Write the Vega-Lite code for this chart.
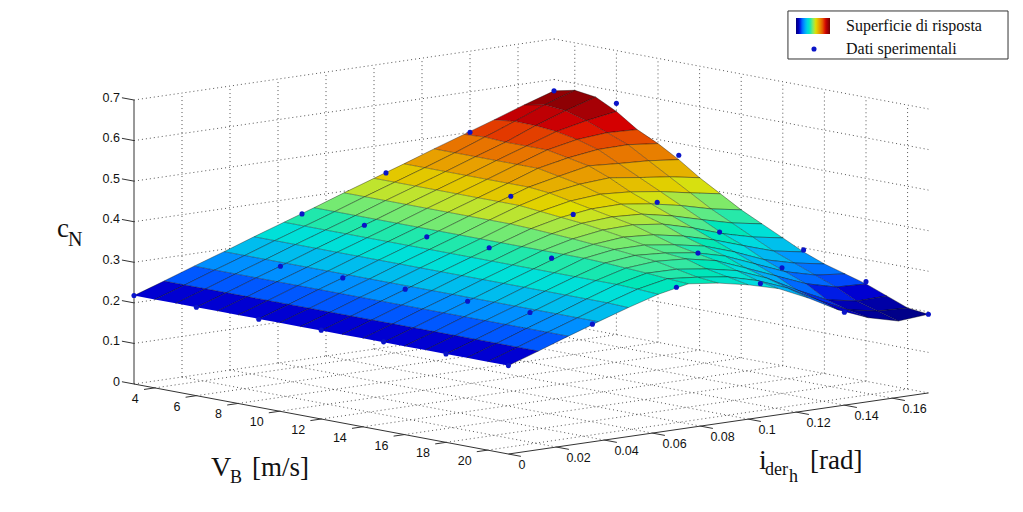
{
"$schema":"https://vega.github.io/schema/vega-lite/v6.json",
"width":1023,"height":512,"padding":0,"autosize":{"type":"none"},"background":"white",
"config":{"view":{"stroke":null}},
"datasets":{
"surface":[
{"V":3,"i":0.175,"c":0.572},{"V":3,"i":0.1625,"c":0.548},{"V":3,"i":0.15,"c":0.522},{"V":3,"i":0.1375,"c":0.497},{"V":3,"i":0.125,"c":0.472},{"V":3,"i":0.1125,"c":0.446},{"V":3,"i":0.1,"c":0.421},{"V":3,"i":0.0875,"c":0.396},{"V":3,"i":0.075,"c":0.37},{"V":3,"i":0.0625,"c":0.345},{"V":3,"i":0.05,"c":0.32},{"V":3,"i":0.0375,"c":0.294},{"V":3,"i":0.025,"c":0.269},{"V":3,"i":0.0125,"c":0.243},{"V":3,"i":0,"c":0.218},
{"V":4,"i":0.175,"c":0.583},{"V":4,"i":0.1625,"c":0.558},{"V":4,"i":0.15,"c":0.528},{"V":4,"i":0.1375,"c":0.5},{"V":4,"i":0.125,"c":0.472},{"V":4,"i":0.1125,"c":0.446},{"V":4,"i":0.1,"c":0.421},{"V":4,"i":0.0875,"c":0.396},{"V":4,"i":0.075,"c":0.37},{"V":4,"i":0.0625,"c":0.345},{"V":4,"i":0.05,"c":0.32},{"V":4,"i":0.0375,"c":0.294},{"V":4,"i":0.025,"c":0.269},{"V":4,"i":0.0125,"c":0.243},{"V":4,"i":0,"c":0.218},
{"V":5,"i":0.175,"c":0.576},{"V":5,"i":0.1625,"c":0.553},{"V":5,"i":0.15,"c":0.527},{"V":5,"i":0.1375,"c":0.497},{"V":5,"i":0.125,"c":0.472},{"V":5,"i":0.1125,"c":0.446},{"V":5,"i":0.1,"c":0.421},{"V":5,"i":0.0875,"c":0.396},{"V":5,"i":0.075,"c":0.37},{"V":5,"i":0.0625,"c":0.345},{"V":5,"i":0.05,"c":0.32},{"V":5,"i":0.0375,"c":0.294},{"V":5,"i":0.025,"c":0.269},{"V":5,"i":0.0125,"c":0.243},{"V":5,"i":0,"c":0.218},
{"V":6,"i":0.175,"c":0.55},{"V":6,"i":0.1625,"c":0.538},{"V":6,"i":0.15,"c":0.522},{"V":6,"i":0.1375,"c":0.497},{"V":6,"i":0.125,"c":0.472},{"V":6,"i":0.1125,"c":0.446},{"V":6,"i":0.1,"c":0.421},{"V":6,"i":0.0875,"c":0.396},{"V":6,"i":0.075,"c":0.37},{"V":6,"i":0.0625,"c":0.345},{"V":6,"i":0.05,"c":0.32},{"V":6,"i":0.0375,"c":0.294},{"V":6,"i":0.025,"c":0.269},{"V":6,"i":0.0125,"c":0.243},{"V":6,"i":0,"c":0.218},
{"V":7,"i":0.175,"c":0.515},{"V":7,"i":0.1625,"c":0.518},{"V":7,"i":0.15,"c":0.512},{"V":7,"i":0.1375,"c":0.497},{"V":7,"i":0.125,"c":0.472},{"V":7,"i":0.1125,"c":0.446},{"V":7,"i":0.1,"c":0.421},{"V":7,"i":0.0875,"c":0.396},{"V":7,"i":0.075,"c":0.37},{"V":7,"i":0.0625,"c":0.345},{"V":7,"i":0.05,"c":0.32},{"V":7,"i":0.0375,"c":0.294},{"V":7,"i":0.025,"c":0.269},{"V":7,"i":0.0125,"c":0.243},{"V":7,"i":0,"c":0.218},
{"V":8,"i":0.175,"c":0.49},{"V":8,"i":0.1625,"c":0.498},{"V":8,"i":0.15,"c":0.497},{"V":8,"i":0.1375,"c":0.487},{"V":8,"i":0.125,"c":0.472},{"V":8,"i":0.1125,"c":0.446},{"V":8,"i":0.1,"c":0.421},{"V":8,"i":0.0875,"c":0.396},{"V":8,"i":0.075,"c":0.37},{"V":8,"i":0.0625,"c":0.345},{"V":8,"i":0.05,"c":0.32},{"V":8,"i":0.0375,"c":0.294},{"V":8,"i":0.025,"c":0.269},{"V":8,"i":0.0125,"c":0.243},{"V":8,"i":0,"c":0.218},
{"V":9,"i":0.175,"c":0.46},{"V":9,"i":0.1625,"c":0.468},{"V":9,"i":0.15,"c":0.472},{"V":9,"i":0.1375,"c":0.477},{"V":9,"i":0.125,"c":0.462},{"V":9,"i":0.1125,"c":0.446},{"V":9,"i":0.1,"c":0.421},{"V":9,"i":0.0875,"c":0.396},{"V":9,"i":0.075,"c":0.37},{"V":9,"i":0.0625,"c":0.345},{"V":9,"i":0.05,"c":0.32},{"V":9,"i":0.0375,"c":0.294},{"V":9,"i":0.025,"c":0.269},{"V":9,"i":0.0125,"c":0.243},{"V":9,"i":0,"c":0.218},
{"V":10,"i":0.175,"c":0.425},{"V":10,"i":0.1625,"c":0.438},{"V":10,"i":0.15,"c":0.447},{"V":10,"i":0.1375,"c":0.457},{"V":10,"i":0.125,"c":0.452},{"V":10,"i":0.1125,"c":0.441},{"V":10,"i":0.1,"c":0.421},{"V":10,"i":0.0875,"c":0.396},{"V":10,"i":0.075,"c":0.37},{"V":10,"i":0.0625,"c":0.345},{"V":10,"i":0.05,"c":0.32},{"V":10,"i":0.0375,"c":0.294},{"V":10,"i":0.025,"c":0.269},{"V":10,"i":0.0125,"c":0.243},{"V":10,"i":0,"c":0.218},
{"V":11,"i":0.175,"c":0.395},{"V":11,"i":0.1625,"c":0.408},{"V":11,"i":0.15,"c":0.422},{"V":11,"i":0.1375,"c":0.432},{"V":11,"i":0.125,"c":0.437},{"V":11,"i":0.1125,"c":0.431},{"V":11,"i":0.1,"c":0.416},{"V":11,"i":0.0875,"c":0.396},{"V":11,"i":0.075,"c":0.37},{"V":11,"i":0.0625,"c":0.345},{"V":11,"i":0.05,"c":0.32},{"V":11,"i":0.0375,"c":0.294},{"V":11,"i":0.025,"c":0.269},{"V":11,"i":0.0125,"c":0.243},{"V":11,"i":0,"c":0.218},
{"V":12,"i":0.175,"c":0.365},{"V":12,"i":0.1625,"c":0.378},{"V":12,"i":0.15,"c":0.397},{"V":12,"i":0.1375,"c":0.412},{"V":12,"i":0.125,"c":0.422},{"V":12,"i":0.1125,"c":0.421},{"V":12,"i":0.1,"c":0.411},{"V":12,"i":0.0875,"c":0.394},{"V":12,"i":0.075,"c":0.37},{"V":12,"i":0.0625,"c":0.345},{"V":12,"i":0.05,"c":0.32},{"V":12,"i":0.0375,"c":0.294},{"V":12,"i":0.025,"c":0.269},{"V":12,"i":0.0125,"c":0.243},{"V":12,"i":0,"c":0.218},
{"V":13,"i":0.175,"c":0.34},{"V":13,"i":0.1625,"c":0.353},{"V":13,"i":0.15,"c":0.372},{"V":13,"i":0.1375,"c":0.392},{"V":13,"i":0.125,"c":0.407},{"V":13,"i":0.1125,"c":0.411},{"V":13,"i":0.1,"c":0.406},{"V":13,"i":0.0875,"c":0.391},{"V":13,"i":0.075,"c":0.37},{"V":13,"i":0.0625,"c":0.345},{"V":13,"i":0.05,"c":0.32},{"V":13,"i":0.0375,"c":0.294},{"V":13,"i":0.025,"c":0.269},{"V":13,"i":0.0125,"c":0.243},{"V":13,"i":0,"c":0.218},
{"V":14,"i":0.175,"c":0.315},{"V":14,"i":0.1625,"c":0.328},{"V":14,"i":0.15,"c":0.347},{"V":14,"i":0.1375,"c":0.372},{"V":14,"i":0.125,"c":0.392},{"V":14,"i":0.1125,"c":0.401},{"V":14,"i":0.1,"c":0.399},{"V":14,"i":0.0875,"c":0.388},{"V":14,"i":0.075,"c":0.37},{"V":14,"i":0.0625,"c":0.345},{"V":14,"i":0.05,"c":0.32},{"V":14,"i":0.0375,"c":0.294},{"V":14,"i":0.025,"c":0.269},{"V":14,"i":0.0125,"c":0.243},{"V":14,"i":0,"c":0.218},
{"V":15,"i":0.175,"c":0.29},{"V":15,"i":0.1625,"c":0.303},{"V":15,"i":0.15,"c":0.327},{"V":15,"i":0.1375,"c":0.352},{"V":15,"i":0.125,"c":0.372},{"V":15,"i":0.1125,"c":0.386},{"V":15,"i":0.1,"c":0.391},{"V":15,"i":0.0875,"c":0.384},{"V":15,"i":0.075,"c":0.37},{"V":15,"i":0.0625,"c":0.345},{"V":15,"i":0.05,"c":0.32},{"V":15,"i":0.0375,"c":0.294},{"V":15,"i":0.025,"c":0.269},{"V":15,"i":0.0125,"c":0.243},{"V":15,"i":0,"c":0.218},
{"V":16,"i":0.175,"c":0.27},{"V":16,"i":0.1625,"c":0.283},{"V":16,"i":0.15,"c":0.302},{"V":16,"i":0.1375,"c":0.332},{"V":16,"i":0.125,"c":0.357},{"V":16,"i":0.1125,"c":0.371},{"V":16,"i":0.1,"c":0.381},{"V":16,"i":0.0875,"c":0.381},{"V":16,"i":0.075,"c":0.37},{"V":16,"i":0.0625,"c":0.345},{"V":16,"i":0.05,"c":0.32},{"V":16,"i":0.0375,"c":0.294},{"V":16,"i":0.025,"c":0.269},{"V":16,"i":0.0125,"c":0.243},{"V":16,"i":0,"c":0.218},
{"V":17,"i":0.175,"c":0.255},{"V":17,"i":0.1625,"c":0.263},{"V":17,"i":0.15,"c":0.282},{"V":17,"i":0.1375,"c":0.312},{"V":17,"i":0.125,"c":0.342},{"V":17,"i":0.1125,"c":0.361},{"V":17,"i":0.1,"c":0.371},{"V":17,"i":0.0875,"c":0.376},{"V":17,"i":0.075,"c":0.368},{"V":17,"i":0.0625,"c":0.345},{"V":17,"i":0.05,"c":0.32},{"V":17,"i":0.0375,"c":0.294},{"V":17,"i":0.025,"c":0.269},{"V":17,"i":0.0125,"c":0.243},{"V":17,"i":0,"c":0.218},
{"V":18,"i":0.175,"c":0.24},{"V":18,"i":0.1625,"c":0.243},{"V":18,"i":0.15,"c":0.262},{"V":18,"i":0.1375,"c":0.292},{"V":18,"i":0.125,"c":0.322},{"V":18,"i":0.1125,"c":0.351},{"V":18,"i":0.1,"c":0.366},{"V":18,"i":0.0875,"c":0.371},{"V":18,"i":0.075,"c":0.365},{"V":18,"i":0.0625,"c":0.345},{"V":18,"i":0.05,"c":0.32},{"V":18,"i":0.0375,"c":0.294},{"V":18,"i":0.025,"c":0.269},{"V":18,"i":0.0125,"c":0.243},{"V":18,"i":0,"c":0.218},
{"V":19,"i":0.175,"c":0.22},{"V":19,"i":0.1625,"c":0.218},{"V":19,"i":0.15,"c":0.232},{"V":19,"i":0.1375,"c":0.267},{"V":19,"i":0.125,"c":0.307},{"V":19,"i":0.1125,"c":0.336},{"V":19,"i":0.1,"c":0.351},{"V":19,"i":0.0875,"c":0.361},{"V":19,"i":0.075,"c":0.362},{"V":19,"i":0.0625,"c":0.345},{"V":19,"i":0.05,"c":0.32},{"V":19,"i":0.0375,"c":0.294},{"V":19,"i":0.025,"c":0.269},{"V":19,"i":0.0125,"c":0.243},{"V":19,"i":0,"c":0.218},
{"V":20,"i":0.175,"c":0.2},{"V":20,"i":0.1625,"c":0.203},{"V":20,"i":0.15,"c":0.217},{"V":20,"i":0.1375,"c":0.252},{"V":20,"i":0.125,"c":0.292},{"V":20,"i":0.1125,"c":0.321},{"V":20,"i":0.1,"c":0.341},{"V":20,"i":0.0875,"c":0.351},{"V":20,"i":0.075,"c":0.358},{"V":20,"i":0.0625,"c":0.343},{"V":20,"i":0.05,"c":0.32},{"V":20,"i":0.0375,"c":0.294},{"V":20,"i":0.025,"c":0.269},{"V":20,"i":0.0125,"c":0.243},{"V":20,"i":0,"c":0.218},
{"V":21,"i":0.175,"c":0.194},{"V":21,"i":0.1625,"c":0.188},{"V":21,"i":0.15,"c":0.207},{"V":21,"i":0.1375,"c":0.237},{"V":21,"i":0.125,"c":0.277},{"V":21,"i":0.1125,"c":0.311},{"V":21,"i":0.1,"c":0.331},{"V":21,"i":0.0875,"c":0.346},{"V":21,"i":0.075,"c":0.355},{"V":21,"i":0.0625,"c":0.34},{"V":21,"i":0.05,"c":0.318},{"V":21,"i":0.0375,"c":0.294},{"V":21,"i":0.025,"c":0.269},{"V":21,"i":0.0125,"c":0.243},{"V":21,"i":0,"c":0.218}
],
"misure":[
{"V":3,"i":0,"c":0.218},{"V":6,"i":0,"c":0.218},{"V":9,"i":0,"c":0.217},{"V":12,"i":0,"c":0.219},{"V":15,"i":0,"c":0.219},{"V":18,"i":0,"c":0.218},{"V":21,"i":0,"c":0.218},
{"V":6,"i":0.035,"c":0.289},{"V":9,"i":0.035,"c":0.289},{"V":12,"i":0.035,"c":0.29},{"V":15,"i":0.035,"c":0.289},{"V":18,"i":0.035,"c":0.29},{"V":21,"i":0.035,"c":0.29},
{"V":3,"i":0.07,"c":0.359},{"V":6,"i":0.07,"c":0.36},{"V":9,"i":0.07,"c":0.36},{"V":12,"i":0.07,"c":0.362},{"V":15,"i":0.07,"c":0.365},{"V":21,"i":0.07,"c":0.351},
{"V":3,"i":0.105,"c":0.43},{"V":9,"i":0.105,"c":0.43},{"V":12,"i":0.105,"c":0.414},{"V":18,"i":0.105,"c":0.376},{"V":21,"i":0.105,"c":0.33},
{"V":3,"i":0.14,"c":0.5},{"V":12,"i":0.14,"c":0.414},{"V":15,"i":0.14,"c":0.369},{"V":18,"i":0.14,"c":0.31},{"V":21,"i":0.14,"c":0.229},
{"V":3,"i":0.175,"c":0.572},{"V":6,"i":0.175,"c":0.57},{"V":9,"i":0.175,"c":0.471},{"V":15,"i":0.175,"c":0.295},{"V":18,"i":0.175,"c":0.2456},{"V":21,"i":0.175,"c":0.194}
],
"griglia":[
{"V1":4,"i1":0,"z1":0,"V2":4,"i2":0.175,"z2":0},{"V1":6,"i1":0,"z1":0,"V2":6,"i2":0.175,"z2":0},{"V1":8,"i1":0,"z1":0,"V2":8,"i2":0.175,"z2":0},{"V1":10,"i1":0,"z1":0,"V2":10,"i2":0.175,"z2":0},{"V1":12,"i1":0,"z1":0,"V2":12,"i2":0.175,"z2":0},{"V1":14,"i1":0,"z1":0,"V2":14,"i2":0.175,"z2":0},{"V1":16,"i1":0,"z1":0,"V2":16,"i2":0.175,"z2":0},{"V1":18,"i1":0,"z1":0,"V2":18,"i2":0.175,"z2":0},{"V1":20,"i1":0,"z1":0,"V2":20,"i2":0.175,"z2":0},
{"V1":3,"i1":0.02,"z1":0,"V2":21,"i2":0.02,"z2":0},{"V1":3,"i1":0.04,"z1":0,"V2":21,"i2":0.04,"z2":0},{"V1":3,"i1":0.06,"z1":0,"V2":21,"i2":0.06,"z2":0},{"V1":3,"i1":0.08,"z1":0,"V2":21,"i2":0.08,"z2":0},{"V1":3,"i1":0.1,"z1":0,"V2":21,"i2":0.1,"z2":0},{"V1":3,"i1":0.12,"z1":0,"V2":21,"i2":0.12,"z2":0},{"V1":3,"i1":0.14,"z1":0,"V2":21,"i2":0.14,"z2":0},{"V1":3,"i1":0.16,"z1":0,"V2":21,"i2":0.16,"z2":0},
{"V1":3,"i1":0.02,"z1":0,"V2":3,"i2":0.02,"z2":0.7},{"V1":3,"i1":0.04,"z1":0,"V2":3,"i2":0.04,"z2":0.7},{"V1":3,"i1":0.06,"z1":0,"V2":3,"i2":0.06,"z2":0.7},{"V1":3,"i1":0.08,"z1":0,"V2":3,"i2":0.08,"z2":0.7},{"V1":3,"i1":0.1,"z1":0,"V2":3,"i2":0.1,"z2":0.7},{"V1":3,"i1":0.12,"z1":0,"V2":3,"i2":0.12,"z2":0.7},{"V1":3,"i1":0.14,"z1":0,"V2":3,"i2":0.14,"z2":0.7},{"V1":3,"i1":0.16,"z1":0,"V2":3,"i2":0.16,"z2":0.7},
{"V1":3,"i1":0,"z1":0,"V2":3,"i2":0.175,"z2":0},{"V1":3,"i1":0,"z1":0.1,"V2":3,"i2":0.175,"z2":0.1},{"V1":3,"i1":0,"z1":0.2,"V2":3,"i2":0.175,"z2":0.2},{"V1":3,"i1":0,"z1":0.3,"V2":3,"i2":0.175,"z2":0.3},{"V1":3,"i1":0,"z1":0.4,"V2":3,"i2":0.175,"z2":0.4},{"V1":3,"i1":0,"z1":0.5,"V2":3,"i2":0.175,"z2":0.5},{"V1":3,"i1":0,"z1":0.6,"V2":3,"i2":0.175,"z2":0.6},{"V1":3,"i1":0,"z1":0.7,"V2":3,"i2":0.175,"z2":0.7},
{"V1":4,"i1":0.175,"z1":0,"V2":4,"i2":0.175,"z2":0.7},{"V1":6,"i1":0.175,"z1":0,"V2":6,"i2":0.175,"z2":0.7},{"V1":8,"i1":0.175,"z1":0,"V2":8,"i2":0.175,"z2":0.7},{"V1":10,"i1":0.175,"z1":0,"V2":10,"i2":0.175,"z2":0.7},{"V1":12,"i1":0.175,"z1":0,"V2":12,"i2":0.175,"z2":0.7},{"V1":14,"i1":0.175,"z1":0,"V2":14,"i2":0.175,"z2":0.7},{"V1":16,"i1":0.175,"z1":0,"V2":16,"i2":0.175,"z2":0.7},{"V1":18,"i1":0.175,"z1":0,"V2":18,"i2":0.175,"z2":0.7},{"V1":20,"i1":0.175,"z1":0,"V2":20,"i2":0.175,"z2":0.7},
{"V1":3,"i1":0.175,"z1":0,"V2":21,"i2":0.175,"z2":0},{"V1":3,"i1":0.175,"z1":0.1,"V2":21,"i2":0.175,"z2":0.1},{"V1":3,"i1":0.175,"z1":0.2,"V2":21,"i2":0.175,"z2":0.2},{"V1":3,"i1":0.175,"z1":0.3,"V2":21,"i2":0.175,"z2":0.3},{"V1":3,"i1":0.175,"z1":0.4,"V2":21,"i2":0.175,"z2":0.4},{"V1":3,"i1":0.175,"z1":0.5,"V2":21,"i2":0.175,"z2":0.5},{"V1":3,"i1":0.175,"z1":0.6,"V2":21,"i2":0.175,"z2":0.6},{"V1":3,"i1":0.175,"z1":0.7,"V2":21,"i2":0.175,"z2":0.7}
],
"assi":[
{"V1":3,"i1":0,"z1":0,"V2":3,"i2":0,"z2":0.7},{"V1":3,"i1":0,"z1":0,"V2":21,"i2":0,"z2":0},{"V1":21,"i1":0,"z1":0,"V2":21,"i2":0.175,"z2":0},
{"V1":3,"i1":0,"z1":0,"V2":2.42,"i2":0,"z2":0},{"V1":3,"i1":0,"z1":0.1,"V2":2.42,"i2":0,"z2":0.1},{"V1":3,"i1":0,"z1":0.2,"V2":2.42,"i2":0,"z2":0.2},{"V1":3,"i1":0,"z1":0.3,"V2":2.42,"i2":0,"z2":0.3},{"V1":3,"i1":0,"z1":0.4,"V2":2.42,"i2":0,"z2":0.4},{"V1":3,"i1":0,"z1":0.5,"V2":2.42,"i2":0,"z2":0.5},{"V1":3,"i1":0,"z1":0.6,"V2":2.42,"i2":0,"z2":0.6},{"V1":3,"i1":0,"z1":0.7,"V2":2.42,"i2":0,"z2":0.7},
{"V1":4,"i1":0,"z1":0,"V2":4,"i2":-0.0045,"z2":0},{"V1":6,"i1":0,"z1":0,"V2":6,"i2":-0.0045,"z2":0},{"V1":8,"i1":0,"z1":0,"V2":8,"i2":-0.0045,"z2":0},{"V1":10,"i1":0,"z1":0,"V2":10,"i2":-0.0045,"z2":0},{"V1":12,"i1":0,"z1":0,"V2":12,"i2":-0.0045,"z2":0},{"V1":14,"i1":0,"z1":0,"V2":14,"i2":-0.0045,"z2":0},{"V1":16,"i1":0,"z1":0,"V2":16,"i2":-0.0045,"z2":0},{"V1":18,"i1":0,"z1":0,"V2":18,"i2":-0.0045,"z2":0},{"V1":20,"i1":0,"z1":0,"V2":20,"i2":-0.0045,"z2":0},
{"V1":21,"i1":0,"z1":0,"V2":21.6,"i2":0,"z2":0},{"V1":21,"i1":0.02,"z1":0,"V2":21.6,"i2":0.02,"z2":0},{"V1":21,"i1":0.04,"z1":0,"V2":21.6,"i2":0.04,"z2":0},{"V1":21,"i1":0.06,"z1":0,"V2":21.6,"i2":0.06,"z2":0},{"V1":21,"i1":0.08,"z1":0,"V2":21.6,"i2":0.08,"z2":0},{"V1":21,"i1":0.1,"z1":0,"V2":21.6,"i2":0.1,"z2":0},{"V1":21,"i1":0.12,"z1":0,"V2":21.6,"i2":0.12,"z2":0},{"V1":21,"i1":0.14,"z1":0,"V2":21.6,"i2":0.14,"z2":0},{"V1":21,"i1":0.16,"z1":0,"V2":21.6,"i2":0.16,"z2":0}
],
"cornice":[{"V1":34.44,"i1":0,"z1":1.2209,"V2":45.02,"i2":0,"z2":1.204}],
"etichetteZ":[{"V":2.42,"i":0,"z":0,"t":"0"},{"V":2.42,"i":0,"z":0.1,"t":"0.1"},{"V":2.42,"i":0,"z":0.2,"t":"0.2"},{"V":2.42,"i":0,"z":0.3,"t":"0.3"},{"V":2.42,"i":0,"z":0.4,"t":"0.4"},{"V":2.42,"i":0,"z":0.5,"t":"0.5"},{"V":2.42,"i":0,"z":0.6,"t":"0.6"},{"V":2.42,"i":0,"z":0.7,"t":"0.7"}],
"etichetteV":[{"V":4,"i":0,"z":0,"t":"4"},{"V":6,"i":0,"z":0,"t":"6"},{"V":8,"i":0,"z":0,"t":"8"},{"V":10,"i":0,"z":0,"t":"10"},{"V":12,"i":0,"z":0,"t":"12"},{"V":14,"i":0,"z":0,"t":"14"},{"V":16,"i":0,"z":0,"t":"16"},{"V":18,"i":0,"z":0,"t":"18"},{"V":20,"i":0,"z":0,"t":"20"}],
"etichetteI":[{"V":21,"i":0,"z":0,"t":"0"},{"V":21,"i":0.02,"z":0,"t":"0.02"},{"V":21,"i":0.04,"z":0,"t":"0.04"},{"V":21,"i":0.06,"z":0,"t":"0.06"},{"V":21,"i":0.08,"z":0,"t":"0.08"},{"V":21,"i":0.1,"z":0,"t":"0.1"},{"V":21,"i":0.12,"z":0,"t":"0.12"},{"V":21,"i":0.14,"z":0,"t":"0.14"},{"V":21,"i":0.16,"z":0,"t":"0.16"}],
"titoli":[
{"V":-0.702,"i":0,"z":0.3269,"t":"c","s":27},{"V":-0.173,"i":0,"z":0.3097,"t":"N","s":20},
{"V":6.702,"i":0,"z":-0.1913,"t":"V","s":28},{"V":7.615,"i":0,"z":-0.1998,"t":"B","s":18},{"V":8.673,"i":0,"z":-0.1724,"t":"[m/s]","s":27},
{"V":33.05,"i":0,"z":0.0786,"t":"i","s":28},{"V":33.34,"i":0,"z":0.0666,"t":"der","s":18},{"V":34.49,"i":0,"z":0.0604,"t":"h","s":18},{"V":35.5,"i":0,"z":0.102,"t":"[rad]","s":27}
]
},
"layer":[
{"data":{"name":"griglia"},
 "transform":[{"calculate":"134+20.8*(datum.V1-3)+2400*datum.i1","as":"x1"},{"calculate":"384+3.89*(datum.V1-3)-349*datum.i1-405.7*datum.z1","as":"y1"},{"calculate":"134+20.8*(datum.V2-3)+2400*datum.i2","as":"x2"},{"calculate":"384+3.89*(datum.V2-3)-349*datum.i2-405.7*datum.z2","as":"y2"}],
 "mark":{"type":"rule","stroke":"#555","strokeWidth":1,"strokeDash":[1,3]},
 "encoding":{"x":{"field":"x1","type":"quantitative","scale":{"domain":[0,1023],"nice":false,"zero":false},"axis":null},"y":{"field":"y1","type":"quantitative","scale":{"domain":[512,0],"nice":false,"zero":false},"axis":null},"x2":{"field":"x2"},"y2":{"field":"y2"}}},
{"data":{"name":"assi"},
 "transform":[{"calculate":"134+20.8*(datum.V1-3)+2400*datum.i1","as":"x1"},{"calculate":"384+3.89*(datum.V1-3)-349*datum.i1-405.7*datum.z1","as":"y1"},{"calculate":"134+20.8*(datum.V2-3)+2400*datum.i2","as":"x2"},{"calculate":"384+3.89*(datum.V2-3)-349*datum.i2-405.7*datum.z2","as":"y2"}],
 "mark":{"type":"rule","stroke":"#333","strokeWidth":1},
 "encoding":{"x":{"field":"x1","type":"quantitative","axis":null},"y":{"field":"y1","type":"quantitative","axis":null},"x2":{"field":"x2"},"y2":{"field":"y2"}}},
{"data":{"name":"cornice"},
 "transform":[{"calculate":"134+20.8*(datum.V1-3)+2400*datum.i1","as":"x1"},{"calculate":"384+3.89*(datum.V1-3)-349*datum.i1-405.7*datum.z1","as":"y1"},{"calculate":"134+20.8*(datum.V2-3)+2400*datum.i2","as":"x2"},{"calculate":"384+3.89*(datum.V2-3)-349*datum.i2-405.7*datum.z2","as":"y2"}],
 "mark":{"type":"rect","fill":"white","stroke":"#333","strokeWidth":1},
 "encoding":{"x":{"field":"x1","type":"quantitative","axis":null},"y":{"field":"y1","type":"quantitative","axis":null},"x2":{"field":"x2"},"y2":{"field":"y2"}}},
{"data":{"name":"surface"},
 "transform":[
  {"window":[{"op":"lead","field":"c","as":"c_i"},{"op":"lead","field":"i","as":"i_n"}],"groupby":["V"],"sort":[{"field":"i","order":"ascending"}]},
  {"window":[{"op":"lead","field":"c","as":"c_v"},{"op":"lead","field":"c_i","as":"c_iv"},{"op":"lead","field":"V","as":"V_n"}],"groupby":["i"],"sort":[{"field":"V","order":"ascending"}]},
  {"filter":"isValid(datum.i_n) && isValid(datum.V_n)"},
  {"calculate":"(datum.c+datum.c_i+datum.c_v+datum.c_iv)/4","as":"m"},
  {"calculate":"datum.V+'_'+datum.i","as":"id"},
  {"calculate":"[0,1,2,3]","as":"k"},
  {"flatten":["k"]},
  {"calculate":"datum.k<2?datum.V:datum.V_n","as":"vv"},
  {"calculate":"(datum.k==1||datum.k==2)?datum.i_n:datum.i","as":"ii"},
  {"calculate":"[datum.c,datum.c_i,datum.c_iv,datum.c_v][datum.k]","as":"zz"},
  {"calculate":"134+20.8*(datum.vv-3)+2400*datum.ii","as":"px"},
  {"calculate":"384+3.89*(datum.vv-3)-349*datum.ii-405.7*datum.zz","as":"py"}
 ],
 "mark":{"type":"line","stroke":"#000","strokeWidth":0.6,"strokeOpacity":0.6,"interpolate":"linear"},
 "encoding":{
  "x":{"field":"px","type":"quantitative","axis":null},
  "y":{"field":"py","type":"quantitative","axis":null},
  "detail":{"field":"id"},
  "order":{"field":"k","type":"quantitative"},
  "fill":{"field":"m","type":"quantitative",
   "scale":{"domain":[0.19,0.236,0.328,0.419,0.525,0.585],"range":["#00007c","#0000de","#00dede","#dede00","#de0000","#6f0000"],"clamp":true},
   "legend":{"orient":"none","legendX":796,"legendY":18,"type":"gradient","direction":"horizontal","title":"Superficie di risposta","titleOrient":"right","titleFont":"Liberation Serif","titleFontSize":16,"titleFontWeight":"normal","titleColor":"#111","titlePadding":16,"gradientLength":34,"gradientThickness":16,"labelOpacity":0,"labelFontSize":1,"labelOffset":0,"padding":0}}
 }},
{"data":{"name":"misure"},
 "transform":[{"calculate":"134+20.8*(datum.V-3)+2400*datum.i","as":"px"},{"calculate":"384+3.89*(datum.V-3)-349*datum.i-405.7*datum.c","as":"py"}],
 "mark":{"type":"circle","size":26,"opacity":1},
 "encoding":{"x":{"field":"px","type":"quantitative","axis":null},"y":{"field":"py","type":"quantitative","axis":null},
  "color":{"datum":"Dati sperimentali","scale":{"domain":["Dati sperimentali"],"range":["#0a14c8"]},
   "legend":{"orient":"none","legendX":806,"legendY":41,"title":null,"labelFont":"Liberation Serif","labelFontSize":16,"labelColor":"#111","labelOffset":24,"symbolSize":26,"symbolType":"circle","padding":0}}}},
{"data":{"name":"etichetteZ"},
 "transform":[{"calculate":"134+20.8*(datum.V-3)+2400*datum.i","as":"px"},{"calculate":"384+3.89*(datum.V-3)-349*datum.i-405.7*datum.z","as":"py"}],
 "mark":{"type":"text","font":"Liberation Sans","fontSize":12.5,"fill":"#111","align":"right","baseline":"middle","dx":-2},
 "encoding":{"x":{"field":"px","type":"quantitative","axis":null},"y":{"field":"py","type":"quantitative","axis":null},"text":{"field":"t"}}},
{"data":{"name":"etichetteV"},
 "transform":[{"calculate":"134+20.8*(datum.V-3)+2400*datum.i","as":"px"},{"calculate":"384+3.89*(datum.V-3)-349*datum.i-405.7*datum.z","as":"py"}],
 "mark":{"type":"text","font":"Liberation Sans","fontSize":12.5,"fill":"#111","align":"right","baseline":"middle","dx":-16,"dy":11},
 "encoding":{"x":{"field":"px","type":"quantitative","axis":null},"y":{"field":"py","type":"quantitative","axis":null},"text":{"field":"t"}}},
{"data":{"name":"etichetteI"},
 "transform":[{"calculate":"134+20.8*(datum.V-3)+2400*datum.i","as":"px"},{"calculate":"384+3.89*(datum.V-3)-349*datum.i-405.7*datum.z","as":"py"}],
 "mark":{"type":"text","font":"Liberation Sans","fontSize":12.5,"fill":"#111","align":"left","baseline":"middle","dx":10,"dy":11},
 "encoding":{"x":{"field":"px","type":"quantitative","axis":null},"y":{"field":"py","type":"quantitative","axis":null},"text":{"field":"t"}}},
{"data":{"name":"titoli"},
 "transform":[{"calculate":"134+20.8*(datum.V-3)+2400*datum.i","as":"px"},{"calculate":"384+3.89*(datum.V-3)-349*datum.i-405.7*datum.z","as":"py"}],
 "mark":{"type":"text","font":"Liberation Serif","fill":"#111","align":"left","baseline":"alphabetic"},
 "encoding":{"x":{"field":"px","type":"quantitative","axis":null},"y":{"field":"py","type":"quantitative","axis":null},"text":{"field":"t"},"size":{"field":"s","type":"quantitative","scale":null,"legend":null}}}
]
}
